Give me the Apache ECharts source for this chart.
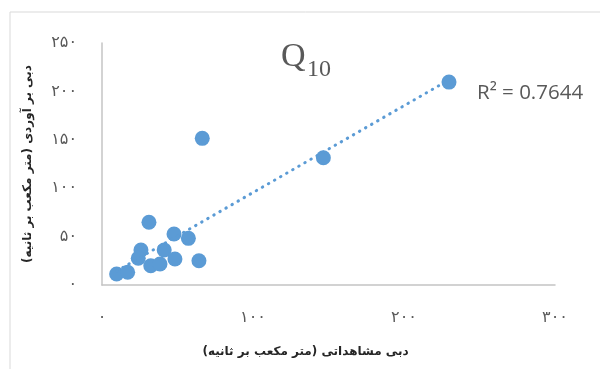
<!DOCTYPE html>
<html>
<head>
<meta charset="utf-8">
<script src="https://cdn.jsdelivr.net/npm/echarts@6/dist/echarts.min.js"></script>
<style>
  html, body { margin: 0; padding: 0; background: #fff; }
  #chart { width: 600px; height: 369px; }
</style>
</head>
<body>
<div id="chart"></div>
<script>
// Observed vs. estimated discharge (Q10), m³/s
const observed  = [229.8, 66.4, 146.6, 31.1, 47.7, 57.2, 25.8, 41.2, 24.0, 48.3, 64.2, 32.3, 38.4, 9.7, 17.0];
const estimated = [209.6, 151.5, 131.5, 64.8, 52.7, 48.2, 36.2, 36.2, 27.6, 26.9, 25.1, 19.9, 21.7, 11.4, 13.1];

const xTicks = [0, 100, 200, 300];
const yTicks = [0, 50, 100, 150, 200, 250];

const titleMain = 'Q';
const titleSub = '10';
const r2Text = 'R² = 0.7644';
const xName = 'دبی مشاهداتی (متر مکعب بر ثانیه)';
const yName = 'دبی بر آوردی (متر مکعب بر ثانیه)';

const persianDigits = '۰۱۲۳۴۵۶۷۸۹';
const toPersian = v => String(v).replace(/[0-9]/g, d => persianDigits[+d]);
const rtl = s => s + '\u200F';

// Least-squares linear trend over the observed range
function linearTrend(xs, ys) {
  const n = xs.length;
  const mx = xs.reduce((a, b) => a + b, 0) / n;
  const my = ys.reduce((a, b) => a + b, 0) / n;
  let sxy = 0, sxx = 0;
  for (let i = 0; i < n; i++) {
    sxy += (xs[i] - mx) * (ys[i] - my);
    sxx += (xs[i] - mx) * (xs[i] - mx);
  }
  const slope = sxy / sxx;
  const icpt = my - slope * mx;
  const x0 = Math.min(...xs), x1 = Math.max(...xs);
  return [[x0, icpt + slope * x0], [x1, icpt + slope * x1]];
}

const points = observed.map((x, i) => [x, estimated[i]]);
const trend = linearTrend(observed, estimated);

const BLUE = '#5B9BD5';
const TEXT = '#595959';
const AXIS = '#c4c4c4';
const NAME = '#262626';

const chart = echarts.init(document.getElementById('chart'), null, { renderer: 'canvas' });

chart.setOption({
  animation: false,
  backgroundColor: '#ffffff',
  grid: { left: 102, right: 45, top: 43, bottom: 84, outerBoundsMode: 'none' },
  xAxis: {
    type: 'value',
    min: xTicks[0], max: xTicks[xTicks.length - 1], interval: 100,
    axisLine: { show: true, onZero: false, lineStyle: { color: AXIS, width: 1.5 } },
    axisTick: { show: false },
    splitLine: { show: false },
    axisLabel: { margin: 25, color: TEXT, fontSize: 16, fontFamily: 'DejaVu Sans', formatter: toPersian },
    name: rtl(xName),
    nameLocation: 'middle',
    nameGap: 61,
    nameTextStyle: { color: NAME, fontSize: 12, fontWeight: 'bold', fontFamily: 'DejaVu Sans', padding: [0, 46, 0, 0] }
  },
  yAxis: {
    type: 'value',
    min: yTicks[0], max: yTicks[yTicks.length - 1], interval: 50,
    axisLine: { show: true, onZero: false, lineStyle: { color: AXIS, width: 1.5 } },
    axisTick: { show: false },
    splitLine: { show: false },
    axisLabel: { margin: 25, color: TEXT, fontSize: 16, fontFamily: 'DejaVu Sans', formatter: toPersian },
    name: rtl(yName),
    nameLocation: 'middle',
    nameGap: 68,
    nameTextStyle: { color: NAME, fontSize: 12, fontWeight: 'bold', fontFamily: 'DejaVu Sans' }
  },
  series: [
    {
      type: 'scatter',
      data: points,
      symbol: 'circle',
      symbolSize: 15,
      itemStyle: { color: BLUE, opacity: 1 },
      z: 2
    },
    {
      type: 'line',
      data: trend,
      symbol: 'none',
      silent: true,
      lineStyle: { color: BLUE, width: 3, type: [0.5, 6.5], cap: 'round' },
      z: 3
    }
  ],
  graphic: [
    {
      type: 'rect',
      shape: { x: 10, y: 12, width: 700, height: 500 },
      style: { fill: 'none', stroke: '#d9d9d9', lineWidth: 1 },
      silent: true,
      z: -10
    },
    {
      type: 'text',
      x: 281, y: 40,
      style: { text: titleMain, font: '34px "Liberation Serif"', fill: TEXT }
    },
    {
      type: 'text',
      x: 307, y: 58,
      style: { text: titleSub, font: '24px "Liberation Serif"', fill: TEXT }
    },
    {
      type: 'text',
      x: 477, y: 93,
      style: { text: r2Text, font: '20.5px "Open Sans"', fill: TEXT, verticalAlign: 'middle' }
    }
  ]
});
</script>
</body>
</html>
